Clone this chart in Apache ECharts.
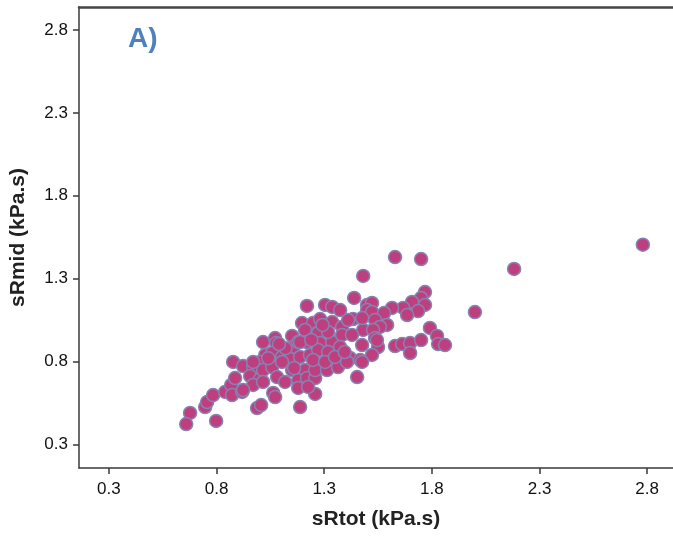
<!DOCTYPE html>
<html>
<head>
<meta charset="utf-8">
<script src="https://cdn.jsdelivr.net/npm/echarts@6/dist/echarts.min.js"></script>
<style>
html,body{margin:0;padding:0;background:#fff;}
#chart{width:673px;height:538px;}
</style>
</head>
<body>
<div id="chart"></div>
<script>
// sRtot (kPa.s) values
const sRtot = [
  0.747,0.756,0.677,0.659,0.798,0.784,0.840,0.868,0.872,0.919,
  0.877,0.923,0.970,0.886,0.956,1.002,0.970,0.988,1.007,1.016,
  1.026,1.002,1.016,1.220,1.197,1.248,1.211,1.072,1.077,1.151,
  1.156,1.179,1.220,1.267,0.970,1.058,1.104,1.142,1.188,1.234,
  1.058,1.104,1.151,1.211,1.267,1.016,1.081,1.118,1.179,1.220,
  1.258,0.923,1.063,1.072,1.179,1.258,1.188,1.304,1.337,1.374,
  1.439,1.499,1.281,1.337,1.383,1.434,1.481,1.272,1.281,1.337,
  1.383,1.429,1.476,1.272,1.318,1.374,1.420,1.467,1.258,1.313,
  1.364,1.406,1.453,1.225,1.481,1.629,1.750,1.768,1.750,1.708,
  1.667,1.615,1.768,1.736,1.685,1.522,1.499,1.522,1.578,1.536,
  1.592,1.559,1.476,1.527,1.536,1.550,1.522,1.476,1.629,1.662,
  1.699,1.750,1.699,1.791,1.824,1.829,1.861,1.545,2.780,2.182,
  2.000,1.188,1.248,1.304,1.350,1.395,1.318,1.411,1.292,1.120,
  1.090,1.040,1.160,1.240
];
// sRmid (kPa.s) values
const sRmid = [
  0.525,0.555,0.489,0.422,0.441,0.597,0.616,0.658,0.597,0.616,
  0.797,0.772,0.766,0.700,0.712,0.694,0.658,0.519,0.537,0.917,
  0.839,0.797,0.748,1.135,1.032,1.032,0.990,0.941,0.911,0.954,
  0.887,0.917,0.917,0.972,0.797,0.851,0.827,0.815,0.827,0.839,
  0.766,0.797,0.748,0.748,0.766,0.676,0.706,0.676,0.688,0.700,
  0.700,0.628,0.610,0.585,0.640,0.604,0.525,1.141,1.129,1.110,
  1.183,1.141,1.056,1.038,1.008,1.056,0.990,0.972,0.911,0.917,
  0.960,0.960,0.899,0.869,0.857,0.887,0.821,0.809,0.748,0.748,
  0.766,0.797,0.706,0.646,1.316,1.430,1.418,1.219,1.183,1.159,
  1.123,1.123,1.141,1.104,1.080,1.153,1.110,1.098,1.092,1.050,
  1.020,1.008,1.062,0.990,0.941,0.887,0.839,0.797,0.893,0.905,
  0.911,0.929,0.851,1.002,0.954,0.905,0.899,0.929,1.505,1.358,
  1.098,0.917,0.809,0.797,0.827,0.857,0.978,1.050,1.020,0.880,
  0.905,0.820,0.760,0.930
];
const tickValues = [0.3, 0.8, 1.3, 1.8, 2.3, 2.8];

const points = sRtot.map((x, i) => [x, sRmid[i]]);

const chart = echarts.init(document.getElementById('chart'));
const font = 'Liberation Sans, Arial, sans-serif';
const axisLineStyle = {color: '#3a3a3a', width: 1.5};

chart.setOption({
  animation: false,
  backgroundColor: '#ffffff',
  grid: {left: 79, right: 0, top: 7, bottom: 70, containLabel: false},
  xAxis: [{
    type: 'value', min: 0.161, max: 2.920,
    name: 'sRtot (kPa.s)', nameLocation: 'middle', nameGap: 41,
    nameTextStyle: {fontFamily: font, fontSize: 21, fontWeight: 'bold', color: '#222'},
    axisLine: {show: true, lineStyle: axisLineStyle, onZero: false},
    axisTick: {show: true, length: 6, inside: false, customValues: tickValues, lineStyle: axisLineStyle},
    axisLabel: {customValues: tickValues, margin: 13, fontFamily: font, fontSize: 17, color: '#111',
      formatter: v => Number(v).toFixed(1)},
    splitLine: {show: false}
  }, {
    type: 'value', min: 0.161, max: 2.920, position: 'top',
    axisLine: {show: true, lineStyle: {color: '#444', width: 2.5}, onZero: false},
    axisTick: {show: false}, axisLabel: {show: false}, splitLine: {show: false}
  }],
  yAxis: {
    type: 'value', min: 0.157, max: 2.939,
    name: 'sRmid (kPa.s)', nameLocation: 'middle', nameGap: 50, nameRotate: 90,
    nameTextStyle: {fontFamily: font, fontSize: 21, fontWeight: 'bold', color: '#222'},
    axisLine: {show: true, lineStyle: axisLineStyle, onZero: false},
    axisTick: {show: true, length: 6, customValues: tickValues, lineStyle: axisLineStyle},
    axisLabel: {customValues: tickValues, margin: 11, fontFamily: font, fontSize: 17, color: '#111',
      formatter: v => Number(v).toFixed(1)},
    splitLine: {show: false}
  },
  graphic: [{
    type: 'text', left: 128, top: 25,
    style: {text: 'A)', fontFamily: font, fontSize: 28, fontWeight: 'bold', fill: '#4f81bd'}
  }],
  series: [{
    type: 'scatter',
    xAxisIndex: 0,
    data: points,
    symbol: 'circle',
    symbolSize: 13,
    itemStyle: {color: '#bf3f7e', borderColor: '#8583b3', borderWidth: 1.5, opacity: 1}
  }]
});
</script>
</body>
</html>
